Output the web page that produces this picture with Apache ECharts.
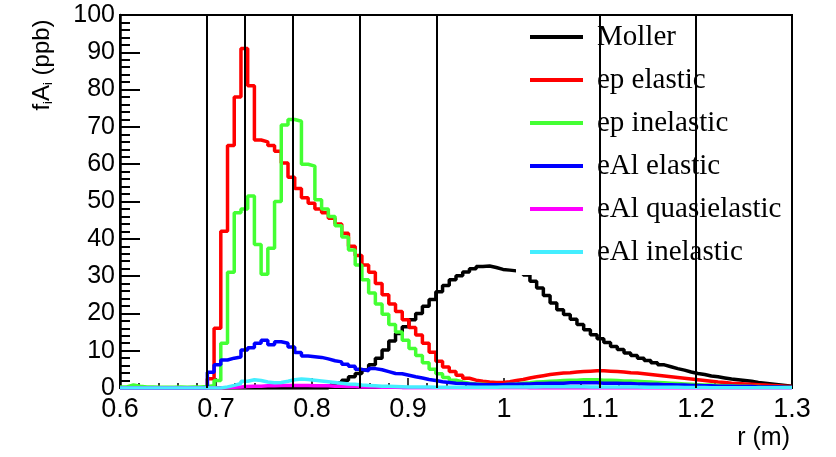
<!DOCTYPE html>
<html>
<head>
<meta charset="utf-8">
<script src="https://cdn.jsdelivr.net/npm/echarts@6/dist/echarts.min.js"></script>
<style>
  html, body { margin: 0; padding: 0; background: #fff; }
  #chart { width: 836px; height: 457px; }
</style>
</head>
<body>
<div id="chart"></div>
<script>
// Histogram binning: 100 bins over r = 0.6 .. 1.3 m
const rMin = 0.6;
const rMax = 1.3;
const nBins = 100;

// Vertical reference positions (m)
const cutLines = [0.69, 0.73, 0.78, 0.855, 0.93, 1.1, 1.2];

const xTicks = ['0.6', '0.7', '0.8', '0.9', '1', '1.1', '1.2', '1.3'];
const yTicks = [0, 10, 20, 30, 40, 50, 60, 70, 80, 90, 100];

const seriesNames = ['Moller', 'ep elastic', 'ep inelastic', 'eAl elastic', 'eAl quasielastic', 'eAl inelastic'];
const seriesColors = ['#000000', '#ff0000', '#44ff33', '#0000ff', '#ff00ff', '#44eeff'];

// f_i A_i (ppb) per bin
const moller = [
  0,0,0,0,0,0,0,0,0,0, 0,0,0,0,0,0,0,0,0,0,
  0,0,0,0,0,0,0,0,0,0, 0,0.6,1.4,2.1,3.0,3.9,4.8,6.2,8.0,10.2,
  12.6,14.6,16.4,18.3,20.0,21.9,23.7,25.8,27.5,29.0,
  30.1,31.1,32.0,32.6,32.7,32.3,31.8,31.6,31.4,30.9,
  30.3,28.6,26.8,24.8,22.8,21.0,19.7,18.4,17.0,15.6,
  14.3,13.2,12.2,11.1,10.3,9.4,8.7,8.0,7.4,6.8,
  6.2,5.7,5.2,4.8,4.3,3.9,3.6,3.2,3.0,2.7,
  2.4,2.2,2.0,1.8,1.5,1.3,1.1,0.9,0.7,0.5
];
const epElastic = [
  0,0,0,0,0,0,0,0,0,0, 0,0,0,2.5,16,42,65,78,91,81,
  66.5,66,65,63.5,60.3,56.5,53.5,51,49.5,48,
  47,45.5,44,41.5,38,35.5,33,31,28,25,
  22.5,20.5,18.3,16.2,14.2,12,9.6,7.2,5.6,4.4,
  3.4,2.6,2.1,1.8,1.6,1.5,1.5,1.7,2.0,2.3,
  2.7,3.0,3.3,3.6,3.8,4.0,4.1,4.3,4.4,4.5,
  4.6,4.6,4.5,4.4,4.3,4.1,4.0,3.8,3.6,3.4,
  3.2,3.0,2.8,2.6,2.4,2.2,2.0,1.8,1.6,1.5,
  1.3,1.2,1.1,1.0,0.9,0.8,0.7,0.6,0.5,0.4
];
const epInelastic = [
  0.3,0.8,0.5,0.3,0.3,0.2,0.2,0.2,0.3,0.2, 0.3,0.3,0.4,0.6,2,12,31,47,48,51.5,
  38.5,30.5,37.5,50,70.5,72,71.5,60,59.5,50.5,
  48,46,43.5,40.5,37,33,29,25.5,22.5,19.8,
  17,15,12.8,10.6,8.7,6.8,5.0,3.8,2.8,2.1,
  1.6,1.3,1.1,1.0,0.9,0.9,0.9,1.0,1.1,1.3,
  1.4,1.6,1.7,1.8,1.9,2.0,2.1,2.1,2.2,2.2,
  2.2,2.1,2.1,2.0,1.9,1.9,1.8,1.7,1.6,1.5,
  1.4,1.3,1.2,1.1,1.0,0.9,0.8,0.8,0.7,0.6,
  0.6,0.5,0.5,0.4,0.4,0.3,0.3,0.3,0.2,0.2
];
const eAlElastic = [
  0,0,0,0,0,0,0,0,0,0, 0,0,0,4.2,6.2,7.5,8.0,8.3,10.2,10.8,
  12,12.8,11.6,12.4,12,11,9.5,8.6,8.4,8.2,
  7.8,7.3,7.0,6.4,5.8,5.0,4.6,5.2,4.9,4.4,
  3.9,3.8,3.4,3.0,2.7,2.3,2.0,1.7,1.5,1.3,
  1.2,1.1,1.0,0.9,0.9,0.9,0.9,1.0,1.0,1.1,
  1.1,1.2,1.2,1.3,1.3,1.3,1.4,1.4,1.4,1.4,
  1.4,1.3,1.3,1.3,1.2,1.2,1.1,1.1,1.0,1.0,
  0.9,0.9,0.8,0.8,0.7,0.7,0.6,0.6,0.5,0.5,
  0.5,0.4,0.4,0.4,0.3,0.3,0.3,0.3,0.2,0.2
];
const eAlQuasielastic = [
  0,0,0,0,0,0,0,0,0,0, 0,0,0,0,0,0.1,0.2,0.3,0.4,0.5,
  0.5,0.6,0.6,0.7,0.7,0.7,0.7,0.7,0.6,0.6,
  0.6,0.5,0.5,0.4,0.4,0.3,0.3,0.3,0.2,0.2,
  0.2,0.1,0.1,0.1,0.1,0.1,0.1,0.1,0.1,0.1,
  0.1,0.1,0.1,0.1,0.1,0.1,0.1,0.1,0.1,0.1,
  0,0,0,0,0,0,0,0,0,0, 0,0,0,0,0,0,0,0,0,0,
  0,0,0,0,0,0,0,0,0,0, 0,0,0,0,0,0,0,0,0,0
];
const eAlInelastic = [
  0,0,0,0,0,0,0,0,0,0, 0,0,0,0,0,0.3,0.7,1.2,1.8,2.2,
  2.0,1.6,1.4,1.5,1.8,2.2,2.4,2.3,2.1,1.9,
  1.7,1.5,1.3,1.1,1.0,0.8,0.7,0.6,0.5,0.45,
  0.4,0.35,0.3,0.3,0.25,0.25,0.2,0.2,0.2,0.2,
  0.2,0.2,0.2,0.2,0.2,0.2,0.25,0.25,0.3,0.3,
  0.3,0.3,0.35,0.35,0.35,0.35,0.35,0.35,0.35,0.3,
  0.3,0.3,0.3,0.3,0.25,0.25,0.25,0.2,0.2,0.2,
  0.2,0.2,0.2,0.15,0.15,0.15,0.15,0.1,0.1,0.1,
  0.1,0.1,0.1,0.1,0.1,0.1,0.1,0.1,0.1,0.1
];

const seriesValues = [moller, epElastic, epInelastic, eAlElastic, eAlQuasielastic, eAlInelastic];

// Step outline: one point per bin low edge, plus the upper edge of the last bin
const binWidth = (rMax - rMin) / nBins;
function histOutline(values) {
  const pts = values.map((v, i) => [rMin + i * binWidth, v]);
  pts.push([rMax, values[values.length - 1]]);
  return pts;
}

const fontSans = 'Liberation Sans, Arial, Helvetica, sans-serif';
const fontSerif = 'Liberation Serif, Times New Roman, serif';

const series = seriesNames.map((name, k) => ({
  name: name,
  type: 'line',
  step: 'end',
  data: histOutline(seriesValues[k]),
  symbol: 'none',
  silent: true,
  color: seriesColors[k],
  lineStyle: { color: seriesColors[k], width: 3.5 },
  z: 2 + k * 0.01
}));

series.push({
  name: 'cuts',
  type: 'line',
  data: [],
  silent: true,
  markLine: {
    silent: true,
    symbol: 'none',
    animation: false,
    label: { show: false },
    lineStyle: { color: '#000', width: 2, type: 'solid' },
    data: cutLines.map(v => ({ xAxis: v }))
  }
});

const chart = echarts.init(document.getElementById('chart'), null, { renderer: 'canvas' });
chart.setOption({
  animation: false,
  backgroundColor: '#fff',
  grid: {
    left: 120, right: 44, top: 15, bottom: 69,
    show: true, borderColor: '#000', borderWidth: 2, backgroundColor: 'transparent'
  },
  xAxis: {
    type: 'value',
    min: rMin, max: rMax, interval: 0.1,
    axisLine: { show: true, onZero: false, lineStyle: { color: '#000', width: 2 } },
    axisTick: { show: true, inside: true, length: 10, lineStyle: { color: '#000', width: 1.5 } },
    minorTick: { show: true, splitNumber: 5, length: 5, lineStyle: { color: '#000', width: 1.5 } },
    splitLine: { show: false },
    axisLabel: {
      margin: 8, color: '#000', fontFamily: fontSans, fontSize: 27,
      formatter: (v) => xTicks[Math.round((v - rMin) * 10)]
    }
  },
  yAxis: {
    type: 'value',
    min: 0, max: 100, interval: 10,
    axisLine: { show: true, lineStyle: { color: '#000', width: 2.5 } },
    axisTick: { show: true, inside: true, length: 20, lineStyle: { color: '#000', width: 2 } },
    minorTick: { show: true, splitNumber: 5, length: 10, lineStyle: { color: '#000', width: 2 } },
    splitLine: { show: false },
    axisLabel: {
      margin: 5, color: '#000', fontFamily: fontSans, fontSize: 25,
      formatter: (v) => String(yTicks[Math.round(v / 10)])
    }
  },
  legend: {
    orient: 'vertical',
    left: 516, top: 17,
    padding: [5, 6, 8, 14],
    backgroundColor: '#fff',
    icon: 'rect',
    itemWidth: 53, itemHeight: 4, itemGap: 13,
    selectedMode: false,
    textStyle: { fontFamily: fontSerif, fontSize: 29, color: '#000', lineHeight: 30, padding: [0, 0, 0, 9] },
    data: seriesNames
  },
  graphic: [
    {
      type: 'text',
      x: 42, y: 65,
      rotation: Math.PI / 2,
      style: {
        text: 'f{s|i}A{s|i} (ppb)',
        fontFamily: fontSans, fontSize: 24, fill: '#000',
        align: 'center', verticalAlign: 'middle',
        rich: { s: { fontSize: 13, fontFamily: fontSans, verticalAlign: 'bottom', padding: [12, 0, 0, 0] } }
      }
    },
    {
      type: 'text',
      x: 790, y: 438,
      style: {
        text: 'r (m)',
        fontFamily: fontSans, fontSize: 25, fill: '#000',
        align: 'right', verticalAlign: 'middle'
      }
    }
  ],
  series: series
});
</script>
</body>
</html>
